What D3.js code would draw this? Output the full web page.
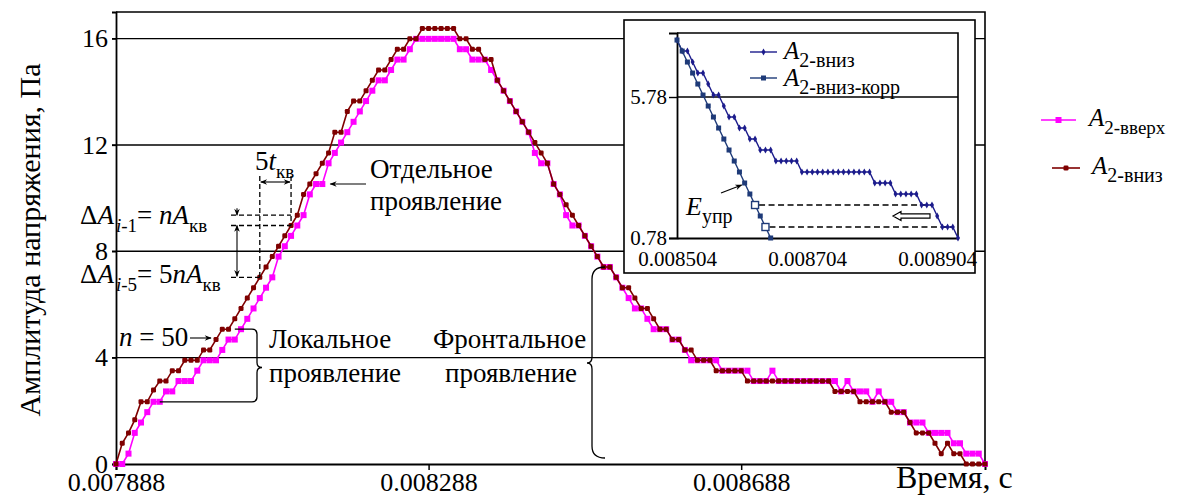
<!DOCTYPE html>
<html><head><meta charset="utf-8">
<script src="https://cdn.jsdelivr.net/npm/d3@7"></script>
<style>
body{margin:0;background:#fff}
svg{display:block}
svg text{font-family:"Liberation Serif","Times New Roman",serif !important;fill:#000}
</style>
</head><body>
<svg id="chart" width="1184" height="497" font-family="Liberation Serif"></svg>
<script>
// sampling grid of the measurement (s)
const sampleStart = 0.007888;
const sampleStep = 8e-6;
const sampleCount = 140;

// A2-вниз, Па
const downValues = [
  0, 0.78, 1.17, 1.66, 2.34, 2.34, 2.78, 3.12, 3.12, 3.51,
  3.51, 3.9, 3.9, 3.9, 4.29, 4.29, 4.68, 5.07, 5.07, 5.46,
  5.85, 6.24, 6.63, 7.02, 7.41, 7.8, 8.19, 8.58, 8.97, 9.36,
  10.14, 10.53, 10.92, 11.31, 11.7, 12.48, 12.48, 13.26, 13.65, 13.65,
  14.04, 14.43, 14.82, 14.82, 15.21, 15.6, 15.6, 15.99, 15.99, 16.38,
  16.38, 16.38, 16.38, 16.38, 16.38, 15.99, 15.99, 15.6, 15.6, 15.21,
  15.21, 14.43, 14.04, 13.65, 13.26, 12.87, 12.48, 12.09, 11.7, 11.31,
  10.53, 10.14, 9.75, 9.36, 8.97, 8.58, 8.19, 7.8, 7.41, 7.41,
  7.02, 6.63, 6.63, 6.24, 5.85, 5.85, 5.46, 5.07, 5.07, 4.68,
  4.68, 4.29, 4.29, 3.9, 3.9, 3.9, 3.51, 3.51, 3.51, 3.51,
  3.51, 3.12, 3.12, 3.12, 3.12, 3.12, 3.12, 3.12, 3.12, 3.12,
  3.12, 3.12, 3.12, 3.12, 3.12, 2.73, 2.73, 2.73, 2.73, 2.34,
  2.34, 2.34, 2.34, 2.34, 1.95, 1.95, 1.95, 1.56, 1.17, 1.17,
  1.17, 0.78, 0.39, 0.78, 0.39, 0.39, 0, 0, 0, 0
];

// A2-вверх, Па
const upValues = [
  0, 0, 0.39, 1.17, 1.56, 1.95, 2.34, 2.34, 2.73, 2.73,
  3.12, 3.12, 3.12, 3.51, 3.9, 3.9, 3.9, 4.29, 4.68, 4.68,
  5.07, 5.46, 5.85, 6.24, 6.63, 7.02, 7.8, 8.19, 8.58, 8.97,
  9.36, 10.14, 10.53, 10.53, 11.31, 11.7, 12.09, 12.48, 12.87, 13.26,
  13.65, 14.04, 14.43, 14.43, 14.82, 15.21, 15.21, 15.6, 15.99, 15.99,
  15.99, 15.99, 15.99, 15.99, 15.99, 15.6, 15.6, 15.21, 15.21, 15.21,
  14.82, 14.43, 14.04, 13.65, 13.26, 12.87, 12.48, 11.7, 11.31, 11.31,
  10.53, 10.14, 9.36, 8.97, 8.97, 8.58, 8.19, 7.8, 7.41, 7.41,
  7.02, 6.63, 6.24, 5.85, 5.85, 5.46, 5.07, 5.07, 5.07, 4.68,
  4.68, 4.29, 3.9, 3.9, 3.9, 3.9, 3.9, 3.51, 3.51, 3.51,
  3.51, 3.51, 3.12, 3.12, 3.12, 3.51, 3.12, 3.12, 3.12, 3.12,
  3.12, 3.12, 3.12, 3.12, 3.12, 3.12, 2.73, 3.12, 2.73, 2.73,
  2.73, 2.34, 2.73, 2.34, 2.34, 1.95, 1.95, 1.56, 1.56, 1.56,
  1.17, 1.17, 1.17, 1.17, 0.78, 0.78, 0.39, 0.39, 0.39, 0
];

// A2-вниз-корр (inset), starts at sample 77
const corrStart = 77;
const corrValues = [
  7.8, 7.41, 7.02, 6.63, 6.24, 5.85, 5.46, 5.07, 4.68, 4.29,
  3.9, 3.51, 3.12, 2.73, 2.34, 1.95, 1.56, 1.17, 0.78
];
const corrHollow = [15, 17];        // positions in corrValues shown as open squares
const corrLinkTargets = [126, 130]; // matching A2-вниз samples

const yTicks = [0, 4, 8, 12, 16];
const xTicks = [0.007888, 0.008288, 0.008688];
const insetXTicks = [0.008504, 0.008704, 0.008904];
const insetYTicks = [0.78, 5.78];

const sampleTimes = d3.range(sampleCount).map(i => sampleStart + i * sampleStep);
const downData = downValues.map((v, i) => ({t: sampleTimes[i], v}));
const upData = upValues.map((v, i) => ({t: sampleTimes[i], v}));
const corrData = corrValues.map((v, i) => ({t: sampleTimes[corrStart + i], v, hollow: corrHollow.includes(i)}));

const C_UP = "#ff00ff", C_DOWN = "#7f0000", C_IN1 = "#1c1c8c", C_IN2 = "#1e3a78";
const SERIF = '"Liberation Serif","Times New Roman",serif';

const svg = d3.select("#chart");
const defs = svg.append("defs");
defs.append("marker").attr("id", "arr").attr("viewBox", "0 0 10 10")
  .attr("refX", 9).attr("refY", 5).attr("markerWidth", 9).attr("markerHeight", 7)
  .attr("markerUnits", "userSpaceOnUse").attr("orient", "auto-start-reverse")
  .append("path").attr("d", "M0,1 L10,5 L0,9 L3,5 Z").attr("fill", "#000");

// ---------- main panel ----------
const M = {left: 116, right: 985, top: 12, bottom: 464};
const x = d3.scaleLinear().domain([0.007888, 0.009]).range([M.left, M.right]);
const y = d3.scaleLinear().domain([0, 17]).range([M.bottom, M.top]);

// grid lines
svg.append("g").selectAll("line").data(yTicks.filter(d => d > 0)).join("line")
  .attr("x1", M.left - 4).attr("x2", M.right).attr("y1", d => y(d)).attr("y2", d => y(d))
  .attr("stroke", "#000").attr("stroke-width", 1.4);

// frame (top and right)
svg.append("path").attr("d", `M${M.left},${M.top}H${M.right}V${M.bottom}`)
  .attr("fill", "none").attr("stroke", "#000").attr("stroke-width", 1.6);

const yAxis = svg.append("g").attr("transform", `translate(${M.left},0)`)
  .call(d3.axisLeft(y).tickValues(yTicks).tickSize(4).tickPadding(4).tickFormat(d3.format("d")));
yAxis.attr("font-family", null).attr("font-size", null);
yAxis.selectAll("text").style("font-size", "26px");
yAxis.select(".domain").attr("stroke-width", 1.8);
yAxis.selectAll(".tick line").attr("stroke-width", 1.4);

const xAxis = svg.append("g").attr("transform", `translate(0,${M.bottom})`)
  .call(d3.axisBottom(x).tickValues(xTicks).tickSize(6).tickPadding(3).tickFormat(d3.format(".6f")));
xAxis.attr("font-family", null).attr("font-size", null);
xAxis.selectAll("text").style("font-size", "26px");
xAxis.select(".domain").attr("stroke-width", 2);
xAxis.selectAll(".tick line").attr("stroke-width", 1.5);

// series
const line = d3.line().x(d => x(d.t)).y(d => y(d.v));
function drawSeries(data, color, size, rx, width) {
  const g = svg.append("g");
  g.append("path").datum(data).attr("d", line).attr("fill", "none")
    .attr("stroke", color).attr("stroke-width", width);
  g.selectAll("rect").data(data).join("rect")
    .attr("x", d => x(d.t) - size / 2).attr("y", d => y(d.v) - size / 2)
    .attr("width", size).attr("height", size).attr("rx", rx).attr("fill", color);
}
drawSeries(upData, C_UP, 6, 0, 1.6);
drawSeries(downData, C_DOWN, 5, 1.3, 1.6);

// ---------- annotations ----------
const ann = svg.append("g").attr("stroke", "#000").attr("fill", "none");
const dash = "5,3";
const xa = x(sampleTimes[23]), xb = x(sampleTimes[28]);
const yA = y(downValues[23]), yB = y(downValues[28]), yC = y(downValues[29]);
const xArr = 237;
// vertical guides for 5 t_кв
ann.append("line").attr("x1", xa).attr("x2", xa).attr("y1", 176).attr("y2", yA).attr("stroke-dasharray", dash).attr("stroke-width", 1.3);
ann.append("line").attr("x1", xb).attr("x2", xb).attr("y1", 176).attr("y2", yB).attr("stroke-dasharray", dash).attr("stroke-width", 1.3);
ann.append("line").attr("x1", xa + 1).attr("x2", xb - 1).attr("y1", 182).attr("y2", 182)
  .attr("stroke-width", 1.1).attr("marker-start", "url(#arr)").attr("marker-end", "url(#arr)");
// horizontal guides for amplitude increments
ann.append("line").attr("x1", 231).attr("x2", xb).attr("y1", yC).attr("y2", yC).attr("stroke-dasharray", dash).attr("stroke-width", 1.3);
ann.append("line").attr("x1", 231).attr("x2", xb).attr("y1", yB).attr("y2", yB).attr("stroke-dasharray", dash).attr("stroke-width", 1.3);
ann.append("line").attr("x1", 231).attr("x2", xa).attr("y1", yA).attr("y2", yA).attr("stroke-dasharray", dash).attr("stroke-width", 1.3);
ann.append("line").attr("x1", xArr).attr("x2", xArr).attr("y1", yC - 7).attr("y2", yC)
  .attr("stroke-width", 1.1).attr("marker-end", "url(#arr)");
ann.append("line").attr("x1", xArr).attr("x2", xArr).attr("y1", yB).attr("y2", yA - 1)
  .attr("stroke-width", 1.1).attr("marker-start", "url(#arr)").attr("marker-end", "url(#arr)");

// n = 50 pointer
ann.append("line").attr("x1", 190).attr("x2", x(sampleTimes[16]) - 5).attr("y1", 338).attr("y2", 338)
  .attr("stroke-width", 1.1).attr("marker-end", "url(#arr)");
// "Отдельное проявление" pointer
ann.append("line").attr("x1", 366).attr("x2", x(sampleTimes[33]) + 8).attr("y1", y(upValues[33])).attr("y2", y(upValues[33]))
  .attr("stroke-width", 1.1).attr("marker-end", "url(#arr)");

// local brace
(function () {
  const yt = y(upValues[20]), yb = y(upValues[6]), ym = (yt + yb) / 2 + 2;
  const xs = 257, r = 5;
  ann.append("path").attr("stroke-width", 1.3).attr("d",
    `M${x(sampleTimes[19])},${yt}H${xs - r}Q${xs},${yt} ${xs},${yt + r}V${ym - 5}Q${xs},${ym} ${xs + 5},${ym}` +
    `Q${xs},${ym} ${xs},${ym + 5}V${yb - r}Q${xs},${yb} ${xs - r},${yb}H${x(sampleTimes[7])}`);
})();
// frontal brace
(function () {
  const yt = y(downValues[79]), yb = y(0) - 6, ym = 363;
  const xe = 605, xs = 592;
  ann.append("path").attr("stroke-width", 1.3).attr("d",
    `M${xe},${yt}Q${xs},${yt} ${xs},${yt + 12}V${ym - 6}Q${xs},${ym} ${xs - 5},${ym}` +
    `Q${xs},${ym} ${xs},${ym + 6}V${yb - 12}Q${xs},${yb} ${xe},${yb}`);
})();

// rich text helper: parts {t, it, sub, dx}
function rich(sel, px, py, parts, size, subSize) {
  const t = sel.append("text").attr("x", px).attr("y", py).style("font-size", size + "px");
  let shift = 0;
  parts.forEach(p => {
    const target = p.sub ? size * 0.3 : 0;
    const ts = t.append("tspan").attr("dy", target - shift)
      .style("font-size", (p.sub ? subSize : size) + "px")
      .style("font-style", p.it ? "italic" : "normal").text(p.t);
    if (p.dx) ts.attr("dx", p.dx);
    shift = target;
  });
  return t;
}
const txt = svg.append("g");
rich(txt, 255, 170, [{t: "5"}, {t: "t", it: true}, {t: "кв", sub: true}], 27, 19);
rich(txt, 80, 224, [{t: "Δ"}, {t: "A", it: true}, {t: "i", it: true, sub: true, dx: 2}, {t: "-1", sub: true}, {t: "= "}, {t: "nA", it: true}, {t: "кв", sub: true}], 27, 19);
rich(txt, 80, 283, [{t: "Δ"}, {t: "A", it: true}, {t: "i", it: true, sub: true, dx: 2}, {t: "-5", sub: true}, {t: "= 5"}, {t: "nA", it: true}, {t: "кв", sub: true}], 27, 19);
rich(txt, 119, 346, [{t: "n", it: true}, {t: " = 50"}], 27, 19);
const plain = [
  ["Отдельное", 370, 178], ["проявление", 370, 210],
  ["Локальное", 269, 348], ["проявление", 269, 382],
  ["Фронтальное", 433, 348], ["проявление", 445, 382]
];
plain.forEach(([s, px, py]) => txt.append("text").attr("x", px).attr("y", py).style("font-size", "27px").text(s));

// axis titles
txt.append("text").attr("transform", "translate(40,240) rotate(-90)").attr("text-anchor", "middle")
  .style("font-size", "30px").text("Амплитуда напряжения, Па");
txt.append("text").attr("x", 896).attr("y", 488).style("font-size", "32px").text("Время, с");

// main legend
const leg = svg.append("g");
leg.append("line").attr("x1", 1041).attr("x2", 1076).attr("y1", 120).attr("y2", 120).attr("stroke", C_UP).attr("stroke-width", 1.6);
leg.append("rect").attr("x", 1055.5).attr("y", 117).attr("width", 6).attr("height", 6).attr("fill", C_UP);
rich(leg, 1089, 126, [{t: "A", it: true}, {t: "2-вверх", sub: true}], 25, 19);
leg.append("line").attr("x1", 1052).attr("x2", 1080).attr("y1", 168).attr("y2", 168).attr("stroke", C_DOWN).attr("stroke-width", 1.6);
leg.append("rect").attr("x", 1063.5).attr("y", 165.5).attr("width", 5).attr("height", 5).attr("rx", 1.3).attr("fill", C_DOWN);
rich(leg, 1092, 174, [{t: "A", it: true}, {t: "2-вниз", sub: true}], 25, 20);

// ---------- inset ----------
const I = {left: 677, right: 958, top: 33, bottom: 238};
svg.append("rect").attr("x", 624).attr("y", 20).attr("width", 351).attr("height", 253)
  .attr("fill", "#fff").attr("stroke", "#000").attr("stroke-width", 1.6);
const ix = d3.scaleLinear().domain([0.008504, 0.008936]).range([I.left, I.right]);
const iy = d3.scaleLinear().domain([0.78, 8.05]).range([I.bottom, I.top]);
const ins = svg.append("g");
ins.append("line").attr("x1", I.left).attr("x2", I.right).attr("y1", iy(5.78)).attr("y2", iy(5.78))
  .attr("stroke", "#000").attr("stroke-width", 1.4);
ins.append("path").attr("d", `M${I.left},${I.top}H${I.right}V${I.bottom}`)
  .attr("fill", "none").attr("stroke", "#000").attr("stroke-width", 1.6);
const iyAxis = ins.append("g").attr("transform", `translate(${I.left},0)`)
  .call(d3.axisLeft(iy).tickValues(insetYTicks).tickSize(8).tickPadding(2).tickFormat(d3.format(".2f")));
iyAxis.attr("font-family", null).attr("font-size", null);
iyAxis.selectAll("text").style("font-size", "21px");
iyAxis.select(".domain").attr("stroke-width", 1.8);
iyAxis.selectAll(".tick line").attr("stroke-width", 1.4);
const ixAxis = ins.append("g").attr("transform", `translate(0,${I.bottom})`)
  .call(d3.axisBottom(ix).tickValues(insetXTicks).tickSize(0).tickPadding(13).tickFormat(d3.format(".6f")));
ixAxis.attr("font-family", null).attr("font-size", null);
ixAxis.selectAll("text").style("font-size", "21px");
ixAxis.select(".domain").attr("stroke-width", 1.8);

const insetDown = downData.filter(d => d.t >= 0.008504 - 1e-9 && d.t <= 0.008936 + 1e-9)
  .map(d => ({t: d.t, v: Math.max(d.v, 0.78)}));
const iline = d3.line().x(d => ix(d.t)).y(d => iy(d.v));

// dashed links from open squares to A2-вниз samples
corrHollow.forEach((ci, k) => {
  const target = downData[corrLinkTargets[k]];
  ins.append("line").attr("x1", ix(corrData[ci].t) + 4).attr("x2", ix(target.t))
    .attr("y1", iy(corrData[ci].v)).attr("y2", iy(target.v))
    .attr("stroke", "#000").attr("stroke-width", 1.3).attr("stroke-dasharray", "6,3.5");
});
// hollow arrow pointing left
(function () {
  const ym = (iy(corrValues[15]) + iy(corrValues[17])) / 2, xl = 893, xr = 930;
  ins.append("path").attr("d",
    `M${xl},${ym}L${xl + 8},${ym - 4.5}V${ym - 2.2}H${xr}V${ym + 2.2}H${xl + 8}V${ym + 4.5}Z`)
    .attr("fill", "#fff").attr("stroke", "#000").attr("stroke-width", 1.2);
})();

ins.append("path").datum(insetDown).attr("d", iline).attr("fill", "none").attr("stroke", C_IN1).attr("stroke-width", 1.4);
ins.selectAll("path.dm").data(insetDown).join("path").attr("class", "dm")
  .attr("transform", d => `translate(${ix(d.t)},${iy(d.v)})`)
  .attr("d", d3.symbol(d3.symbolDiamond, 14)).attr("fill", C_IN1);
ins.append("path").datum(corrData).attr("d", iline).attr("fill", "none").attr("stroke", C_IN2).attr("stroke-width", 1.4);
ins.selectAll("rect.cm").data(corrData).join("rect").attr("class", "cm")
  .attr("x", d => ix(d.t) - (d.hollow ? 3.5 : 2.5)).attr("y", d => iy(d.v) - (d.hollow ? 3.5 : 2.5))
  .attr("width", d => d.hollow ? 7 : 5).attr("height", d => d.hollow ? 7 : 5)
  .attr("fill", d => d.hollow ? "#fff" : C_IN2).attr("stroke", d => d.hollow ? C_IN2 : "none").attr("stroke-width", 1.4);

// E_упр pointer
ins.append("line").attr("x1", 721).attr("y1", 193).attr("x2", ix(corrData[13].t) - 3).attr("y2", iy(corrData[13].v) + 2)
  .attr("stroke", "#000").attr("stroke-width", 1.2).attr("marker-end", "url(#arr)");
rich(ins, 686, 215, [{t: "E", it: true}, {t: "упр", sub: true}], 26, 20);

// inset legend
ins.append("line").attr("x1", 750).attr("x2", 777).attr("y1", 52).attr("y2", 52).attr("stroke", C_IN1).attr("stroke-width", 1.4);
ins.append("path").attr("transform", "translate(763.5,52)").attr("d", d3.symbol(d3.symbolDiamond, 14)).attr("fill", C_IN1);
rich(ins, 784, 59, [{t: "A", it: true}, {t: "2-вниз", sub: true}], 25, 20);
ins.append("line").attr("x1", 750).attr("x2", 777).attr("y1", 78).attr("y2", 78).attr("stroke", C_IN2).attr("stroke-width", 1.4);
ins.append("rect").attr("x", 761).attr("y", 75.5).attr("width", 5).attr("height", 5).attr("fill", C_IN2);
rich(ins, 784, 86, [{t: "A", it: true}, {t: "2-вниз-корр", sub: true}], 25, 20);

svg.selectAll("text").style("font-family", SERIF);
</script>
</body></html>
